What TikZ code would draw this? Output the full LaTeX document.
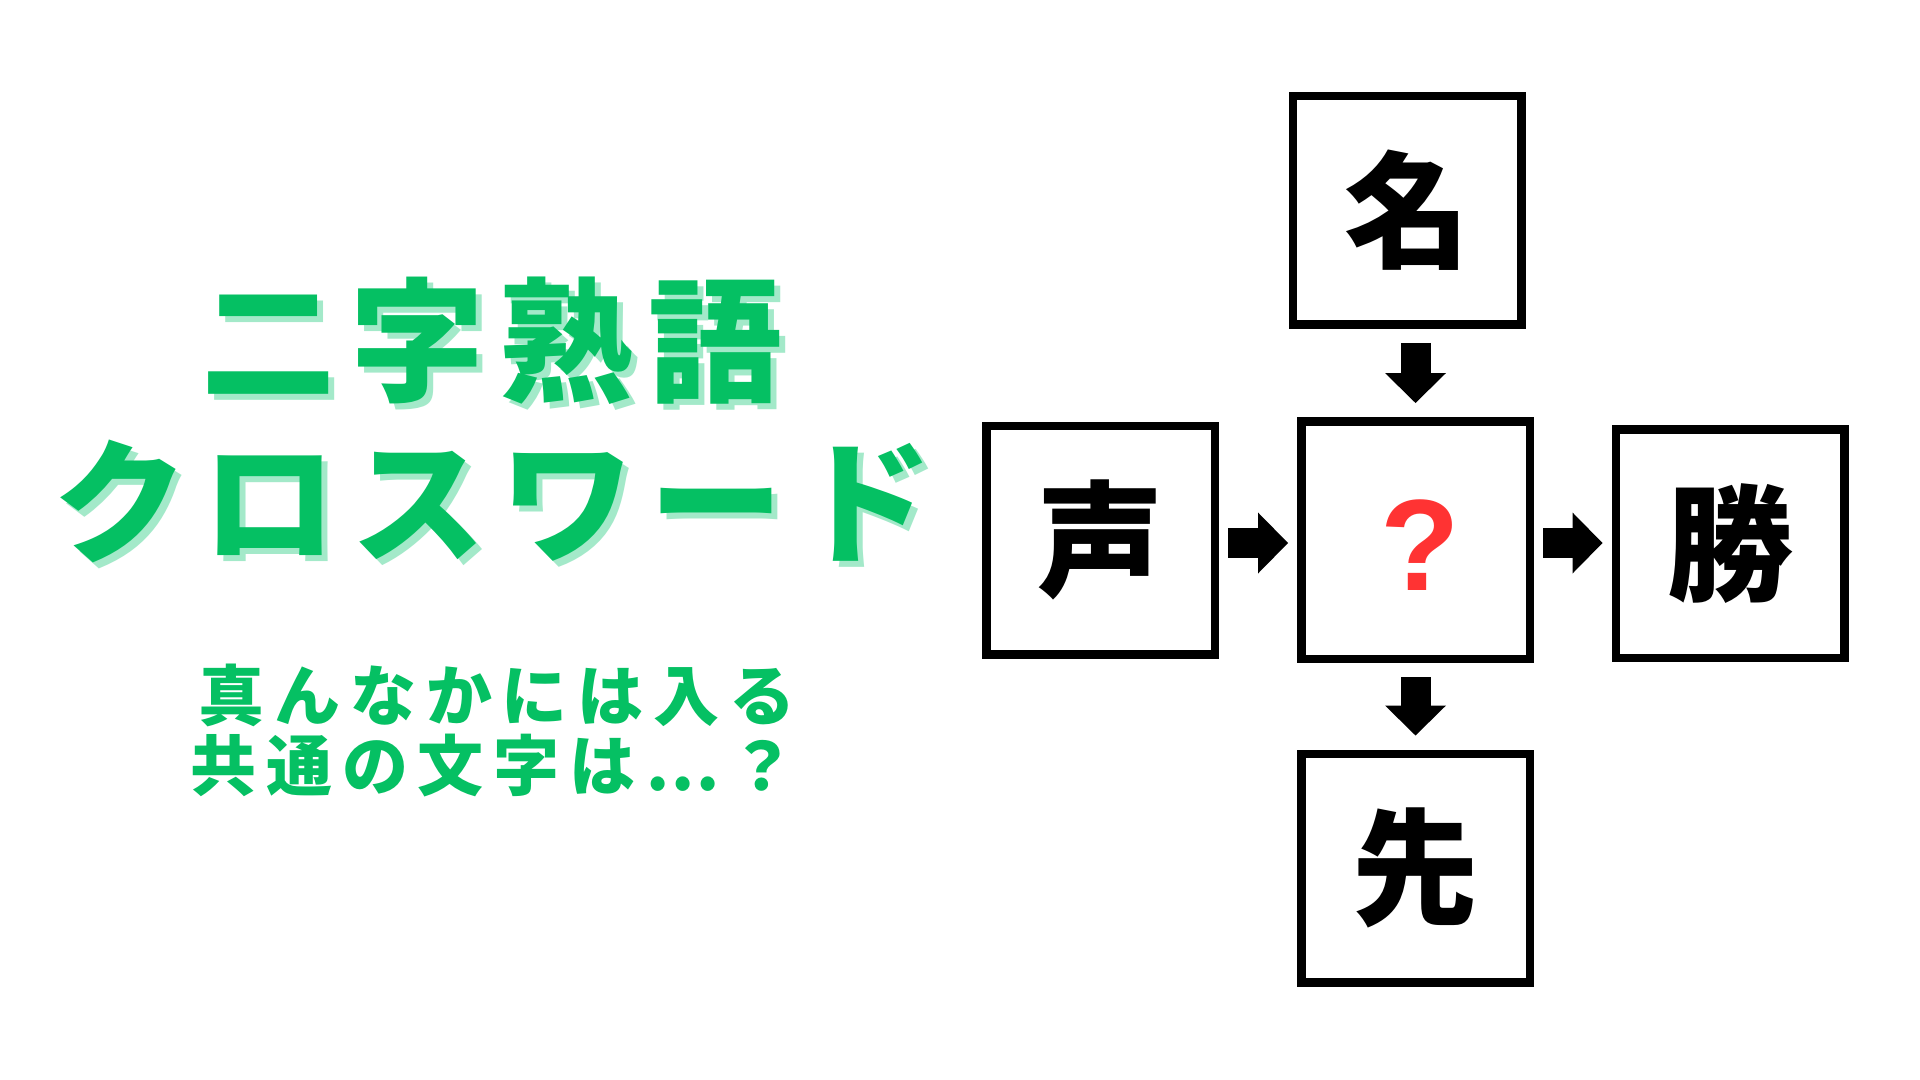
\documentclass[tikz,border=0pt]{standalone}
\usepackage{fontspec}
\setmainfont{Liberation Sans}
\newfontfamily\jpfont{Noto Sans CJK JP}
\newfontfamily\titlefont{Noto Sans CJK JP}[LetterSpace=11.2]
\newfontfamily\subfont{Noto Sans CJK JP}[LetterSpace=15]
\usetikzlibrary{arrows.meta,calc}
\definecolor{tgreen}{RGB}{5,192,99}
\definecolor{tshadow}{RGB}{163,233,201}
\definecolor{qred}{RGB}{255,51,51}
\tikzset{
  cell/.style={draw=black, line width=4.25pt, fill=white, inner sep=0pt,
    minimum width=114.25pt, minimum height=114.25pt,
    font=\jpfont\bfseries\fontsize{63pt}{63pt}\selectfont},
  titletxt/.style={inner sep=0pt, font=\titlefont\bfseries\fontsize{67pt}{67pt}\selectfont},
  subtxt/.style={inner sep=0pt, text=tgreen, font=\subfont\bfseries\fontsize{33pt}{33pt}\selectfont},
  fatarrow/.style={line width=15pt, -{Triangle[width=30.5pt,length=15pt,line width=0pt]}}
}
\begin{document}
\begin{tikzpicture}[x=0.5pt,y=-0.5pt]
\useasboundingbox[fill=white] (0,0) rectangle (1920,1080);
% title with shadow
\node[titletxt, text=tshadow] (t1s) at (498,347) {二字熟語};
\node[titletxt, text=tgreen] (t1) at (492,341) {二字熟語};
\node[titletxt, text=tshadow] (t2s) at (499.5,507) {クロスワード};
\node[titletxt, text=tgreen] (t2) at (493.5,501) {クロスワード};
% subtitle
\node[subtxt] (s1) at (497,695) {真んなかには入る};
\node[subtxt] (s2) at (493,766) {共通の文字は…？};
% boxes
\node[cell] (top) at (1407,210.5) {名};
\node[cell, minimum height=118.75pt] (c) at (1415.5,540) {};
\node[cell] (lft) at (1100.5,540) {声};
\node[cell] (rgt) at (1730,543.5) {勝};
\node[cell] (bot) at (1415.5,868) {先};
\node[anchor=base, inner sep=0pt, text=qred, font=\bfseries\fontsize{65pt}{65pt}\selectfont] (q) at (1420,590) {?};
% arrows
\draw[fatarrow, shorten <=7pt, shorten >=7pt] (c.north |- top.south) -- (c.north);
\draw[fatarrow, shorten <=7pt, shorten >=7pt] (c.south) -- (c.south |- bot.north);
\draw[fatarrow, shorten <=4.5pt, shorten >=4.5pt] ([yshift=-1.5pt]lft.east) -- ([yshift=-1.5pt]c.west);
\draw[fatarrow, shorten <=4.5pt, shorten >=4.5pt] ([yshift=-1.5pt]c.east) -- ([yshift=-1.5pt]c.east -| rgt.west);
\end{tikzpicture}
\end{document}
